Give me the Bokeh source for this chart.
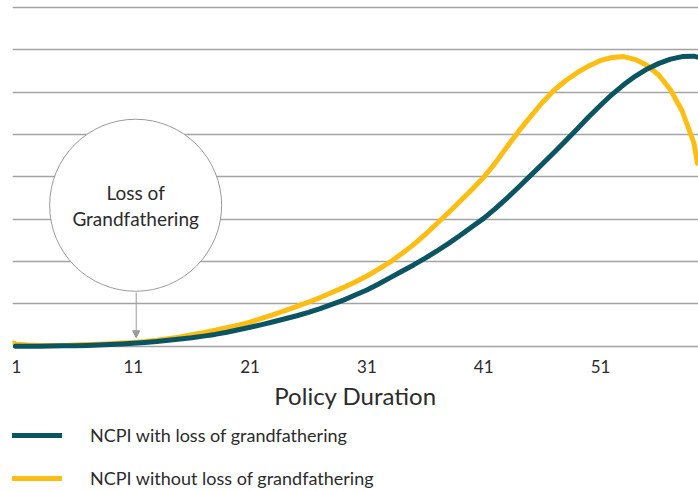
from bokeh.plotting import figure
from bokeh.layouts import column
from bokeh.models import FixedTicker, Legend, LegendItem, Arrow, NormalHead, Label, Range1d
from bokeh.embed import file_html
from bokeh.resources import INLINE

# Policy duration (years) and NCPI values (in gridline units)
duration_with = [0.9, 2, 3, 4, 5, 6, 7, 8, 9, 10, 11, 12, 13, 14, 15, 16, 17, 18, 19, 20,
                 21, 22, 23, 24, 25, 26, 27, 28, 29, 30, 31, 32, 33, 34, 35, 36, 37, 38, 39, 40,
                 41, 42, 43, 44, 45, 46, 47, 48, 49, 50, 51, 52, 53, 54, 55, 56, 57, 58, 59, 59.4]
ncpi_with = [0.0, 0.0, 0.0, 0.005, 0.01, 0.015, 0.02, 0.03, 0.04, 0.055, 0.07, 0.09, 0.11, 0.14,
             0.17, 0.20, 0.24, 0.28, 0.33, 0.39, 0.45, 0.51, 0.58, 0.65, 0.72, 0.80, 0.89, 0.99,
             1.09, 1.21, 1.33, 1.47, 1.62, 1.77, 1.92, 2.08, 2.25, 2.43, 2.62, 2.82, 3.02, 3.25,
             3.50, 3.76, 4.03, 4.30, 4.57, 4.85, 5.13, 5.42, 5.69, 5.95, 6.18, 6.38, 6.55, 6.68,
             6.78, 6.84, 6.85, 6.82]

duration_without = [0.66, 1, 2, 3, 4, 5, 6, 7, 8, 9, 10, 11, 12, 13, 14, 15, 16, 17, 18, 19,
                    20, 21, 22, 23, 24, 25, 26, 27, 28, 29, 30, 31, 32, 33, 34, 35, 36, 37, 38,
                    39, 40, 41, 42, 43, 44, 45, 46, 47, 48, 49, 50, 51, 52, 53, 54, 55, 56, 57,
                    58, 59, 59.3]
ncpi_without = [0.08, 0.05, 0.03, 0.02, 0.02, 0.02, 0.03, 0.04, 0.05, 0.06, 0.075, 0.09, 0.11,
                0.14, 0.18, 0.22, 0.27, 0.32, 0.38, 0.44, 0.50, 0.57, 0.66, 0.75, 0.84, 0.94,
                1.04, 1.15, 1.27, 1.39, 1.52, 1.66, 1.82, 1.99, 2.19, 2.40, 2.64, 2.90, 3.16,
                3.43, 3.70, 3.99, 4.33, 4.71, 5.08, 5.42, 5.75, 6.04, 6.27, 6.46, 6.62, 6.75,
                6.82, 6.84, 6.77, 6.63, 6.40, 6.05, 5.55, 4.80, 4.32]

series_labels = ["NCPI with loss of grandfathering", "NCPI without loss of grandfathering"]
x_ticks = [1, 11, 21, 31, 41, 51]
grid_levels = [0, 1, 2, 3, 4, 5, 6, 7, 8]

TEAL = "#0b5563"
GOLD = "#fdbd12"
FONT = "Lato"
TXT = "#2b2b2b"
GREY = "#9a9a9a"

p = figure(frame_width=686, frame_height=350, output_backend="svg", toolbar_location=None,
           x_range=Range1d(0.658, 59.39), y_range=Range1d(-0.1, 8.165),
           y_axis_location=None, min_border_left=12, min_border_right=0,
           min_border_top=0, min_border_bottom=0)
p.outline_line_color = None
p.background_fill_color = "white"
p.border_fill_color = "white"

p.xgrid.grid_line_color = None
p.ygrid.ticker = FixedTicker(ticks=grid_levels)
p.ygrid.grid_line_color = "#a3a3a3"
p.ygrid.grid_line_width = 1.5

ax = p.xaxis[0]
ax.ticker = FixedTicker(ticks=x_ticks)
ax.axis_line_color = None
ax.major_tick_line_color = None
ax.minor_tick_line_color = None
ax.major_tick_out = 0
ax.major_label_standoff = 9
ax.major_label_text_font = FONT
ax.major_label_text_font_size = "17px"
ax.major_label_text_color = TXT
ax.axis_label = "Policy Duration"
ax.axis_label_text_font = FONT
ax.axis_label_text_font_style = "normal"
ax.axis_label_text_font_size = "24px"
ax.axis_label_text_color = TXT
ax.axis_label_standoff = 5

# annotation circle
p.scatter(x=[11.2], y=[3.33], size=172, marker="circle", fill_color="white",
          line_color=GREY, line_width=1)
p.add_layout(Arrow(end=NormalHead(size=7, fill_color=GREY, line_color=GREY),
                   x_start=11.25, y_start=1.27, x_end=11.25, y_end=0.2,
                   line_color=GREY, line_width=1))
p.add_layout(Label(x=11.2, y=3.63, text="Loss of", text_align="center", text_baseline="middle",
                   text_font=FONT, text_font_size="19px", text_color=TXT))
p.add_layout(Label(x=11.2, y=3.02, text="Grandfathering", text_align="center",
                   text_baseline="middle", text_font=FONT, text_font_size="19px",
                   text_color=TXT))

p.line(duration_without, ncpi_without, line_color=GOLD, line_width=5, line_cap="round",
       line_join="round")
p.line(duration_with, ncpi_with, line_color=TEAL, line_width=5, line_cap="round",
       line_join="round")

# legend strip below the chart (its series lie outside this strip's visible range)
lg = figure(width=698, height=78, output_backend="svg", toolbar_location=None,
            x_range=Range1d(200, 201), y_range=Range1d(200, 201), x_axis_location=None,
            y_axis_location=None, min_border_left=12, min_border_right=0,
            min_border_top=0, min_border_bottom=0)
lg.outline_line_color = None
lg.grid.visible = False
k1 = lg.line(duration_with, ncpi_with, line_color=TEAL, line_width=5, line_cap="round")
k2 = lg.line(duration_without, ncpi_without, line_color=GOLD, line_width=5, line_cap="round")
legend = Legend(items=[LegendItem(label=series_labels[0], renderers=[k1]),
                       LegendItem(label=series_labels[1], renderers=[k2])],
                location=(0, 1), orientation="vertical", glyph_width=50, glyph_height=20,
                label_height=20, spacing=21, padding=0, margin=0, label_standoff=28,
                label_text_font=FONT, label_text_font_size="18px", label_text_color=TXT,
                border_line_color=None, background_fill_alpha=0)
lg.add_layout(legend)

layout = column(p, lg, spacing=0)
open("out.html", "w").write(file_html(layout, INLINE))
